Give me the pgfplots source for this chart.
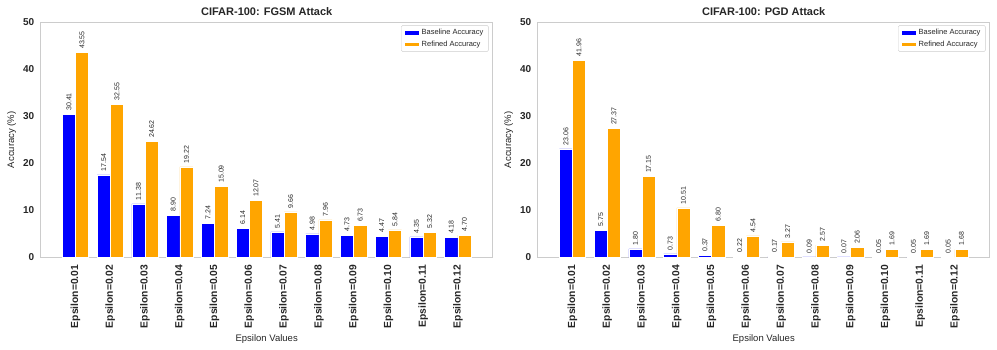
\documentclass[border=0pt]{standalone}
\usepackage{fontspec}
\setmainfont{Liberation Sans}
\usepackage{pgfplots}
\usepackage{pgfplotstable}
\pgfplotsset{compat=1.18}

\definecolor{barblue}{RGB}{0,0,255}
\definecolor{barorange}{RGB}{255,165,0}
\definecolor{txt}{RGB}{38,38,38}
\definecolor{framegray}{RGB}{204,204,204}

\pgfplotstableread{
x base refined
0 30.41 43.55
1 17.54 32.55
2 11.38 24.62
3 8.90 19.22
4 7.24 15.09
5 6.14 12.07
6 5.41 9.66
7 4.98 7.96
8 4.73 6.73
9 4.47 5.84
10 4.35 5.32
11 4.18 4.70
}\fgsm

\pgfplotstableread{
x base refined
0 23.06 41.96
1 5.75 27.37
2 1.80 17.15
3 0.73 10.51
4 0.37 6.80
5 0.22 4.54
6 0.17 3.27
7 0.09 2.57
8 0.07 2.06
9 0.05 1.69
10 0.05 1.69
11 0.05 1.68
}\pgd

\pgfplotsset{
  panel/.style={
    scale only axis, width=452pt, height=235pt,
    anchor=south west,
    ybar, bar width=0.38,
    xmin=-1, xmax=12, ymin=0, ymax=50,
    xtick={0,...,11},
    xticklabels={Epsilon=0.01,Epsilon=0.02,Epsilon=0.03,Epsilon=0.04,Epsilon=0.05,Epsilon=0.06,Epsilon=0.07,Epsilon=0.08,Epsilon=0.09,Epsilon=0.10,Epsilon=0.11,Epsilon=0.12},
    x tick label style={rotate=90, anchor=east, font=\bfseries\fontsize{10.3}{12}\selectfont, text=txt},
    xticklabel shift=4pt,
    ytick={0,10,...,50},
    y tick label style={font=\bfseries\fontsize{10}{12}\selectfont, text=txt},
    yticklabel shift=3pt,
    /pgf/number format/assume math mode=true,
    major tick length=0pt,
    axis line style={framegray, line width=0.9pt},
    ylabel={Accuracy (\%)}, xlabel={Epsilon Values},
    label style={font=\fontsize{9.5}{11}\selectfont, text=txt},
    title style={font=\bfseries\fontsize{11}{13}\selectfont, text=txt, yshift=-3pt},
    legend style={at={(0.991,0.988)}, anchor=north east, draw=framegray,
      rounded corners=1.5pt, font=\fontsize{7.5}{9}\selectfont, text=txt,
      inner xsep=3pt, inner ysep=2pt, row sep=0.5pt},
    legend cell align=left,
    legend image code/.code={\fill[##1, sharp corners] (0pt,-2.3pt) rectangle (15pt,2.3pt);},
    nodes near coords={\pgfmathprintnumber[fixed,fixed zerofill,precision=2]{\pgfplotspointmeta}},
    every node near coord/.append style={rotate=90, anchor=west,
      font=\fontsize{7}{8}\selectfont, text=txt, inner xsep=3.5pt},
  },
  baseplot/.style={fill=barblue, draw=white, line width=0.5pt, bar shift=-0.19},
  refplot/.style={fill=barorange, draw=white, line width=0.5pt, bar shift=0.19},
}

\begin{document}
\begin{tikzpicture}
\path[use as bounding box] (0,0) rectangle (997pt,349pt);
\begin{axis}[panel, at={(40.7pt,91.7pt)}, title={CIFAR-100: FGSM Attack}]
  \addplot[baseplot] table[x=x, y=base] {\fgsm};
  \addplot[refplot] table[x=x, y=refined] {\fgsm};
  \legend{Baseline Accuracy, Refined Accuracy}
\end{axis}
\begin{axis}[panel, at={(537.7pt,91.7pt)}, title={CIFAR-100: PGD Attack}]
  \addplot[baseplot] table[x=x, y=base] {\pgd};
  \addplot[refplot] table[x=x, y=refined] {\pgd};
  \legend{Baseline Accuracy, Refined Accuracy}
\end{axis}
\end{tikzpicture}
\end{document}
